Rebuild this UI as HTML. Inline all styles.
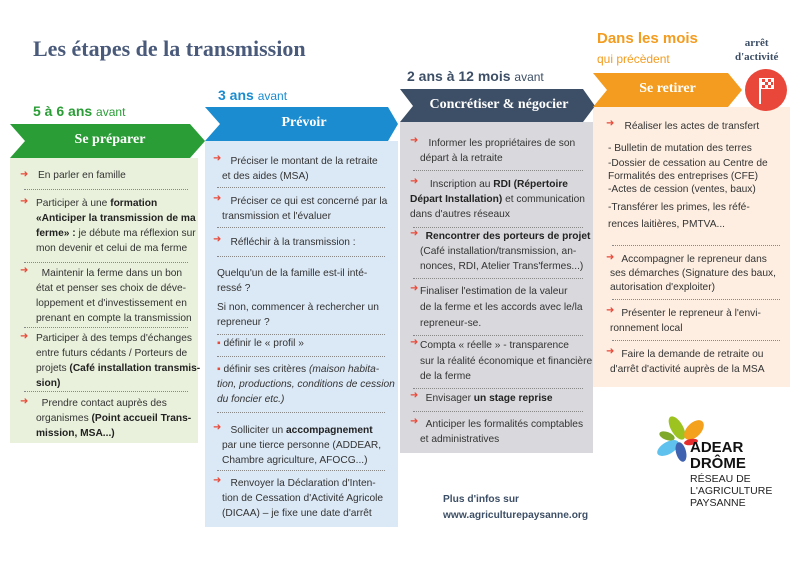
<!DOCTYPE html>
<html><head><meta charset="utf-8"><style>
body{margin:0;width:795px;height:562px;background:#fff;position:relative;overflow:hidden;font-family:"Liberation Sans","DejaVu Sans",sans-serif;color:#333}
.t{position:absolute;font-size:10.2px;line-height:15px;white-space:nowrap;color:#333}
.a{position:absolute;color:#e84a3a;font-weight:bold;font-size:10px;font-family:"DejaVu Sans",sans-serif}
.d{position:absolute;border-top:1px dotted #888;height:0}
.h{position:absolute;white-space:nowrap;font-weight:bold}
.bt{position:absolute;color:#fff;font-family:"Liberation Serif",serif;font-weight:bold;font-size:14px;text-align:center}
b{font-weight:bold;color:#222}
</style></head><body>
<svg width="795" height="562" style="position:absolute;left:0;top:0">
<rect x="10" y="158" width="188" height="285" fill="#e9f1dc"/>
<rect x="205" y="141" width="193" height="386" fill="#dbe8f5"/>
<rect x="400" y="122" width="193" height="331" fill="#d9d9dd"/>
<rect x="593" y="107" width="197" height="280" fill="#fdeee1"/>
<polygon points="10,124 190,124 205,141 190,158 10,158 25,141" fill="#2a9d36"/>
<polygon points="205,107 388,107 398,124 388,141 205,141 220,124" fill="#1a8ccf"/>
<polygon points="400,89 583,89 595,106 583,122 400,122 413,106" fill="#3d4f66"/>
<polygon points="593,73 728,73 742,90 728,107 593,107 607,90" fill="#f39c1f"/>
<circle cx="766" cy="90" r="21" fill="#e8473a"/>
<line x1="760" y1="78" x2="760" y2="104" stroke="#fff" stroke-width="2"/>
<rect x="761" y="78" width="13" height="11" fill="#fff"/>
<g fill="#e8473a"><rect x="762" y="79" width="3" height="3"/><rect x="768" y="79" width="3" height="3"/><rect x="765" y="82" width="3" height="3"/><rect x="771" y="82" width="2" height="3"/><rect x="762" y="85" width="3" height="3"/><rect x="768" y="85" width="3" height="3"/></g>
<g>
<ellipse cx="677" cy="428" rx="6" ry="13" fill="#9cc31f" transform="rotate(-30 677 428)"/>
<ellipse cx="694" cy="430" rx="7" ry="12" fill="#f4a11d" transform="rotate(45 694 430)"/>
<ellipse cx="667" cy="436" rx="4" ry="8" fill="#7ea92a" transform="rotate(-70 667 436)"/>
<ellipse cx="691" cy="442" rx="3" ry="7" fill="#e52d2d" transform="rotate(80 691 442)"/>
<ellipse cx="668" cy="448" rx="6" ry="12" fill="#5ec1ee" transform="rotate(60 668 448)"/>
<ellipse cx="681" cy="452" rx="5" ry="10" fill="#3f63b0" transform="rotate(-15 681 452)"/>
</g>
</svg>
<div class="h" style="left:33px;top:36px;font-family:'Liberation Serif',serif;font-size:22px;color:#4a5a7a">Les étapes de la transmission</div>
<div class="h" style="left:33px;top:103px;font-size:14px;color:#2a9d36">5 à 6 ans <span style="font-weight:normal;font-size:12px">avant</span></div>
<div class="h" style="left:218px;top:87px;font-size:14px;color:#1a8ccf">3 ans <span style="font-weight:normal;font-size:12px">avant</span></div>
<div class="h" style="left:407px;top:68px;font-size:14px;color:#3d4f66">2 ans à 12 mois <span style="font-weight:normal;font-size:12px">avant</span></div>
<div class="h" style="left:597px;top:30px;font-size:15px;color:#f39c1f">Dans les mois</div>
<div class="h" style="left:597px;top:52px;font-size:12px;color:#f39c1f;font-weight:normal">qui précèdent</div>
<div class="h" style="left:735px;top:36px;font-size:11px;color:#3d4f66;font-family:'Liberation Serif',serif;text-align:center;line-height:14px">arrêt<br>d'activité</div>
<div class="bt" style="left:25px;top:132px;width:170px">Se préparer</div>
<div class="bt" style="left:215px;top:115px;width:178px">Prévoir</div>
<div class="bt" style="left:410px;top:97px;width:178px">Concrétiser &amp; négocier</div>
<div class="bt" style="left:605px;top:81px;width:125px">Se retirer</div>

<!-- col1 -->
<span class="a" style="left:20px;top:169px">➜</span><div class="t" style="left:38px;top:168px">En parler en famille</div>
<div class="d" style="left:24px;top:189px;width:164px"></div>
<span class="a" style="left:20px;top:196px">➜</span><div class="t" style="left:36px;top:196px">Participer à une <b>formation</b><br><b>«Anticiper la transmission de ma</b><br><b>ferme» :</b> je débute ma réflexion sur<br>mon devenir et celui de ma ferme</div>
<div class="d" style="left:24px;top:262px;width:164px"></div>
<span class="a" style="left:20px;top:265px">➜</span><div class="t" style="left:36px;top:266px">&nbsp;&nbsp;Maintenir la ferme dans un bon<br>état et penser ses choix de déve-<br>loppement et d'investissement en<br>prenant en compte la transmission</div>
<div class="d" style="left:24px;top:327px;width:164px"></div>
<span class="a" style="left:20px;top:331px">➜</span><div class="t" style="left:36px;top:331px">Participer à des temps d'échanges<br>entre futurs cédants / Porteurs de<br>projets <b>(Café installation transmis-<br>sion)</b></div>
<div class="d" style="left:24px;top:391px;width:164px"></div>
<span class="a" style="left:20px;top:396px">➜</span><div class="t" style="left:36px;top:396px">&nbsp;&nbsp;Prendre contact auprès des<br>organismes <b>(Point accueil Trans-<br>mission, MSA...)</b></div>

<!-- col2 -->
<span class="a" style="left:213px;top:153px">➜</span><div class="t" style="left:222px;top:154px">&nbsp;&nbsp;&nbsp;Préciser le montant de la retraite<br>et des aides (MSA)</div>
<div class="d" style="left:217px;top:187px;width:168px"></div>
<span class="a" style="left:213px;top:193px">➜</span><div class="t" style="left:222px;top:194px">&nbsp;&nbsp;&nbsp;Préciser ce qui est concerné par la<br>transmission et l'évaluer</div>
<div class="d" style="left:217px;top:227px;width:168px"></div>
<span class="a" style="left:213px;top:234px">➜</span><div class="t" style="left:222px;top:235px">&nbsp;&nbsp;&nbsp;Réfléchir à la transmission :</div>
<div class="d" style="left:217px;top:256px;width:168px"></div>
<div class="t" style="left:217px;top:266px">Quelqu'un de la famille est-il inté-<br>ressé ?</div>
<div class="t" style="left:217px;top:300px">Si non, commencer à rechercher un<br>repreneur ?</div>
<div class="d" style="left:217px;top:334px;width:168px"></div>
<div class="t" style="left:217px;top:336px"><span style="color:#e84a3a">▪</span> définir le « profil »</div>
<div class="d" style="left:217px;top:356px;width:168px"></div>
<div class="t" style="left:217px;top:362px"><span style="color:#e84a3a">▪</span> définir ses critères <i>(maison habita-<br>tion, productions, conditions de cession<br>du foncier etc.)</i></div>
<div class="d" style="left:217px;top:412px;width:168px"></div>
<span class="a" style="left:213px;top:422px">➜</span><div class="t" style="left:222px;top:423px">&nbsp;&nbsp;&nbsp;Solliciter un <b>accompagnement</b><br>par une tierce personne (ADDEAR,<br>Chambre agriculture, AFOCG...)</div>
<div class="d" style="left:217px;top:470px;width:168px"></div>
<span class="a" style="left:213px;top:475px">➜</span><div class="t" style="left:222px;top:476px">&nbsp;&nbsp;&nbsp;Renvoyer la Déclaration d'Inten-<br>tion de Cessation d'Activité Agricole<br>(DICAA) – je fixe une date d'arrêt</div>

<!-- col3 -->
<span class="a" style="left:410px;top:135px">➜</span><div class="t" style="left:420px;top:136px">&nbsp;&nbsp;&nbsp;Informer les propriétaires de son<br>départ à la retraite</div>
<div class="d" style="left:413px;top:170px;width:170px"></div>
<span class="a" style="left:410px;top:176px">➜</span><div class="t" style="left:410px;top:177px">&nbsp;&nbsp;&nbsp;&nbsp;&nbsp;&nbsp;&nbsp;Inscription au <b>RDI (Répertoire</b><br><b>Départ Installation)</b> et communication<br>dans d'autres réseaux</div>
<div class="d" style="left:413px;top:227px;width:170px"></div>
<span class="a" style="left:410px;top:228px">➜</span><div class="t" style="left:420px;top:229px">&nbsp;&nbsp;<b>Rencontrer des porteurs de projet</b><br>(Café installation/transmission, an-<br>nonces, RDI, Atelier Trans'fermes...)</div>
<div class="d" style="left:413px;top:278px;width:170px"></div>
<span class="a" style="left:410px;top:283px">➜</span><div class="t" style="left:420px;top:284px;line-height:16px">Finaliser l'estimation de la valeur<br>de la ferme et les accords avec le/la<br>repreneur-se.</div>
<div class="d" style="left:413px;top:335px;width:170px"></div>
<span class="a" style="left:410px;top:337px">➜</span><div class="t" style="left:420px;top:338px;line-height:15.5px">Compta « réelle » - transparence<br>sur la réalité économique et financière<br>de la ferme</div>
<div class="d" style="left:413px;top:388px;width:170px"></div>
<span class="a" style="left:410px;top:390px">➜</span><div class="t" style="left:420px;top:391px">&nbsp;&nbsp;Envisager <b>un stage reprise</b></div>
<div class="d" style="left:413px;top:411px;width:170px"></div>
<span class="a" style="left:410px;top:416px">➜</span><div class="t" style="left:420px;top:417px">&nbsp;&nbsp;Anticiper les formalités comptables<br>et administratives</div>

<!-- col4 -->
<span class="a" style="left:606px;top:118px">➜</span><div class="t" style="left:616px;top:119px">&nbsp;&nbsp;&nbsp;Réaliser les actes de transfert</div>
<div class="t" style="left:608px;top:141px">- Bulletin de mutation des terres</div>
<div class="t" style="left:608px;top:157px;line-height:13px">-Dossier de cessation au Centre de<br>Formalités des entreprises (CFE)<br>-Actes de cession (ventes, baux)</div>
<div class="t" style="left:608px;top:199px;line-height:17px">-Transférer les primes, les réfé-<br>rences laitières, PMTVA...</div>
<div class="d" style="left:612px;top:245px;width:168px"></div>
<span class="a" style="left:606px;top:252px">➜</span><div class="t" style="left:610px;top:253px;line-height:14px">&nbsp;&nbsp;&nbsp;&nbsp;Accompagner le repreneur dans<br>ses démarches (Signature des baux,<br>autorisation d'exploiter)</div>
<div class="d" style="left:612px;top:299px;width:168px"></div>
<span class="a" style="left:606px;top:305px">➜</span><div class="t" style="left:610px;top:306px">&nbsp;&nbsp;&nbsp;&nbsp;Présenter le repreneur à l'envi-<br>ronnement local</div>
<div class="d" style="left:612px;top:340px;width:168px"></div>
<span class="a" style="left:606px;top:346px">➜</span><div class="t" style="left:610px;top:347px">&nbsp;&nbsp;&nbsp;&nbsp;Faire la demande de retraite ou<br>d'arrêt d'activité auprès de la MSA</div>

<div class="t" style="left:443px;top:492px;font-weight:bold;color:#3d4f66;line-height:16px">Plus d'infos sur<br>www.agriculturepaysanne.org</div>
<div class="h" style="left:690px;top:440px;font-size:15px;line-height:16px;color:#111;font-weight:900">ADEAR<br>DRÔME</div>
<div class="t" style="left:690px;top:473px;font-size:10.5px;line-height:12px;color:#222">RÉSEAU DE<br>L'AGRICULTURE<br>PAYSANNE</div>
</body></html>
